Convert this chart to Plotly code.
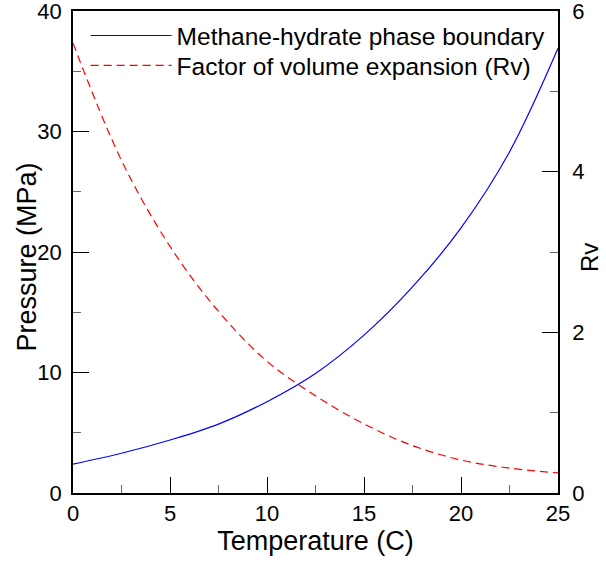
import plotly.graph_objects as go

temperature = [0, 2.5, 5, 7.5, 10, 12.5, 15, 17.5, 20, 22.5, 25]
pressure = [2.4, 3.3, 4.4, 5.72, 7.58, 9.92, 13.1, 17.1, 22.0, 28.3, 36.9]
rv = [5.60, 4.14, 3.07, 2.26, 1.64, 1.21, 0.86, 0.59, 0.41, 0.31, 0.25]

FONT = "Liberation Sans, Arial, sans-serif"

fig = go.Figure()
fig.add_trace(go.Scatter(
    x=temperature, y=pressure, mode="lines", line_shape="spline",
    name="Methane-hydrate phase boundary", legend="legend",
    line=dict(color="#0000ff", width=1.2), yaxis="y"))
fig.add_trace(go.Scatter(
    x=temperature, y=rv, mode="lines", line_shape="spline",
    name="Factor of volume expansion (Rv)", legend="legend2",
    line=dict(color="#ff0000", width=1.2, dash="8px,5px"), yaxis="y2"))

legend_style = dict(xanchor="left", yanchor="middle", bgcolor="rgba(0,0,0,0)",
                    font=dict(size=24.5, family=FONT), itemwidth=81)

fig.update_layout(
    width=606, height=562,
    margin=dict(l=73, r=48, t=11, b=69, autoexpand=False),
    paper_bgcolor="white", plot_bgcolor="white",
    font=dict(family=FONT, color="black", size=22),
    showlegend=True,
    legend=dict(x=0.026, y=0.949, **legend_style),
    legend2=dict(x=0.026, y=0.887, **legend_style),
    xaxis=dict(range=[0, 25], dtick=5, tick0=0, ticks="inside", ticklen=16,
               tickcolor="black", showline=True, linecolor="black", linewidth=1.5,
               mirror=True, showgrid=False, zeroline=False,
               minor=dict(dtick=2.5, ticks="inside", ticklen=8, tickcolor="#666666"),
               title=dict(text="Temperature (C)", font=dict(size=27), standoff=3),
               tickfont=dict(size=22), ticklabelstandoff=0, ticklabeloverflow="allow"),
    yaxis=dict(range=[0, 40], dtick=10, tick0=0, ticks="inside", ticklen=16,
               tickcolor="black", showline=True, linecolor="black", linewidth=1.5,
               showgrid=False, zeroline=False,
               minor=dict(dtick=5, ticks="inside", ticklen=8, tickcolor="#666666"),
               tickfont=dict(size=22), ticklabelstandoff=5, ticklabeloverflow="allow"),
    yaxis2=dict(range=[0, 6], dtick=2, tick0=0, ticks="inside", ticklen=16,
                tickcolor="black", showline=True, linecolor="black", linewidth=1.5,
                overlaying="y", side="right", showgrid=False, zeroline=False,
                minor=dict(dtick=1, ticks="inside", ticklen=8, tickcolor="#666666"),
                tickfont=dict(size=22), ticklabelstandoff=8, ticklabeloverflow="allow"),
    annotations=[
        dict(text="Pressure (MPa)", xref="paper", yref="paper", x=-0.0948, y=0.4886,
             xanchor="center", yanchor="middle", textangle=-90,
             showarrow=False, font=dict(size=27, family=FONT)),
        dict(text="Rv", xref="paper", yref="paper", x=1.066, y=0.4876,
             xanchor="center", yanchor="middle", textangle=-90,
             showarrow=False, font=dict(size=24, family=FONT)),
    ],
)

fig.write_html("out.html", config={"displayModeBar": False},
               post_script="document.body.style.margin='0';")
